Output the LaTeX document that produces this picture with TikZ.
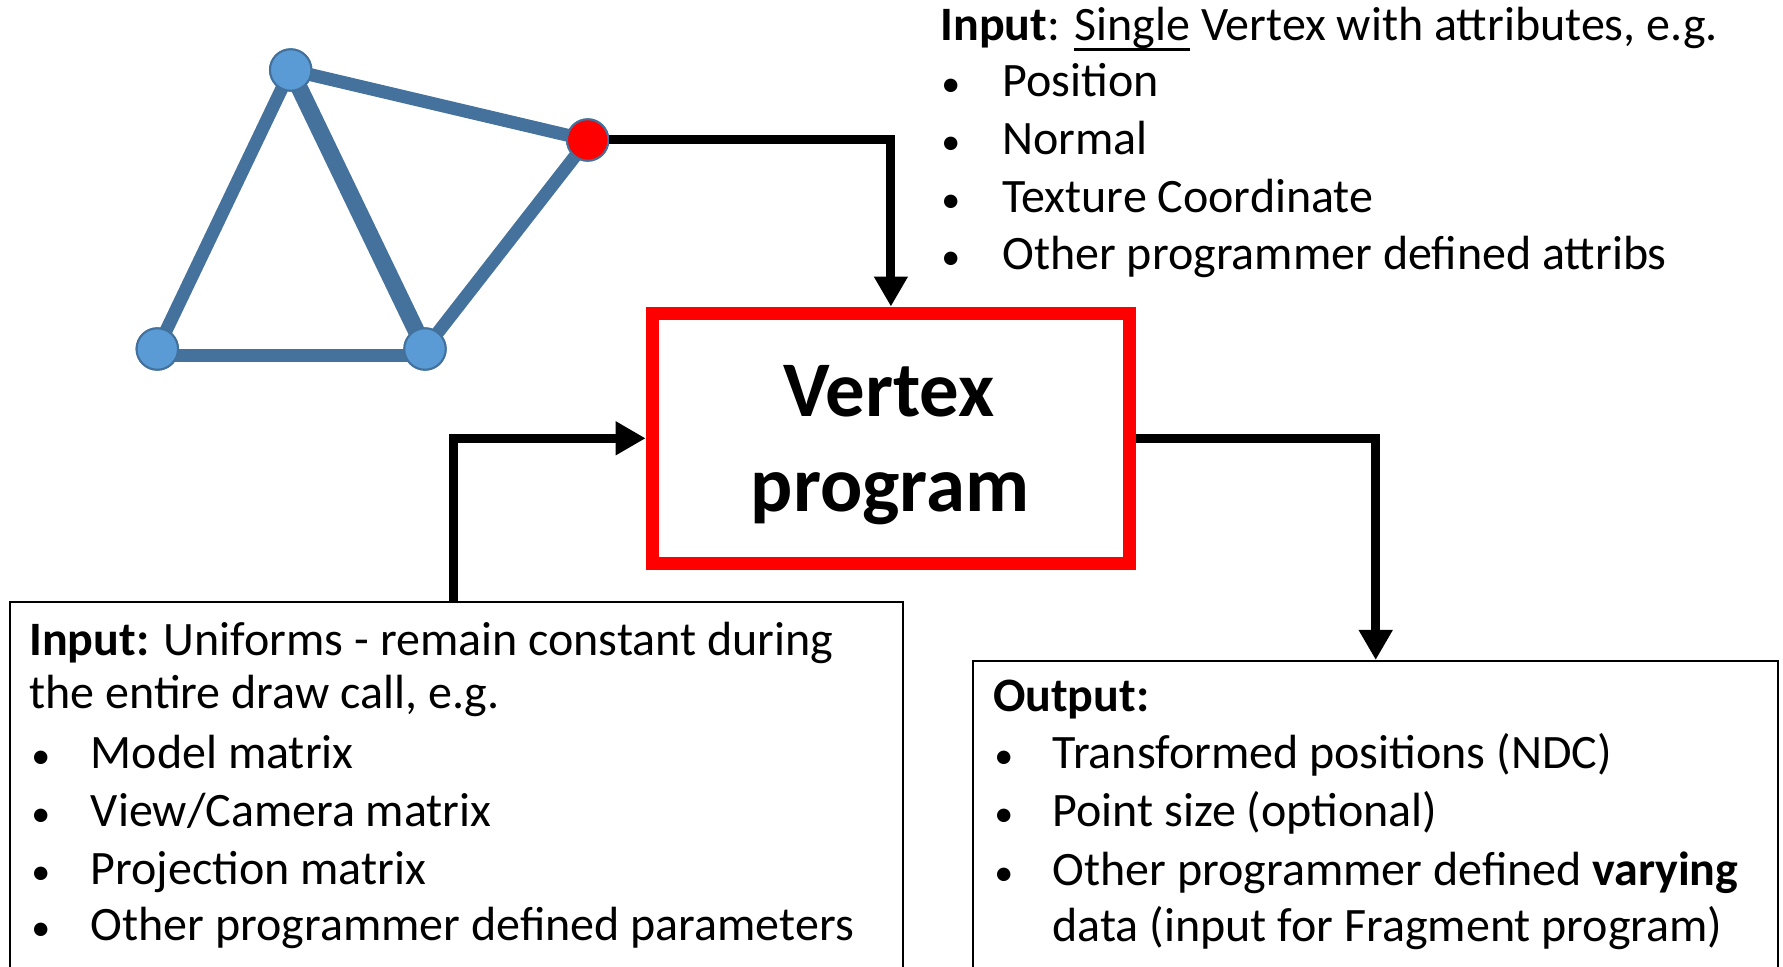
\documentclass[tikz,border=0pt]{standalone}
\usepackage{fontspec}
\setmainfont{Carlito}
\usetikzlibrary{arrows.meta}
\definecolor{meshedge}{HTML}{44729D}
\definecolor{meshfill}{HTML}{5B9BD5}
\definecolor{meshrim}{HTML}{41719C}
% underline with a heavier rule
\newcommand\heavyul[1]{\leavevmode\vtop{\hbox{#1}\kern-0.3pt\hrule height 1.3pt}}
% small list bullet
\newcommand\dotmark{{\fontsize{19}{19}\selectfont\textbullet}}
\begin{document}
\begin{tikzpicture}[x=0.5pt,y=-0.5pt,
  vtx/.style={circle, fill=meshfill, draw=meshrim, line width=1pt, minimum size=20.7pt, inner sep=0pt},
  hotvtx/.style={vtx, fill=red},
  edge/.style={draw=meshedge, line width=6.5pt},
  thickedge/.style={draw=meshedge, line width=8.5pt},
  conn/.style={line width=4.5pt, -{Triangle[length=15pt,width=16pt]}},
  infobox/.style={draw=black, line width=1.2pt, anchor=north west, inner sep=0pt},
  body/.style={font=\fontsize{24}{29}\selectfont, anchor=base west, inner sep=0pt},
  title/.style={font=\fontsize{39.4}{47}\selectfont\bfseries, anchor=base, inner sep=0pt}
]
\useasboundingbox (0,0) rectangle (1783,967);
\clip (0,0) rectangle (1783,967);

% mesh vertices
\node[vtx] (top) at (290.7,70) {};
\node[hotvtx] (red) at (587.7,140) {};
\node[vtx] (bl) at (157.3,349) {};
\node[vtx] (br) at (425,349) {};

% mesh edges, then the vertices again on top of them
\path[edge] (top.center) -- (red.center);
\path[edge] (top.center) -- (bl.center);
\path[thickedge] (top.center) -- (br.center);
\path[edge] (red.center) -- (br.center);
\path[edge] ([yshift=-3.5pt]bl.center) -- ([yshift=-3.5pt]br.center);
\node[vtx] at (top) {};
\node[hotvtx] at (red) {};
\node[vtx] at (bl) {};
\node[vtx] at (br) {};

% the vertex program block
\node[draw=red, line width=6.5pt, minimum width=238.75pt, minimum height=125.25pt, inner sep=0pt] (vp) at (890.9,438.3) {};
\node[title] (vpa) at (889,416.7) {Vertex};
\node[title] (vpb) at (890,511.7) {program};

% uniforms and output boxes
\node[infobox, minimum width=446.5pt, minimum height=194.5pt] (uni) at (9,601) {};
\node[infobox, minimum width=402.5pt, minimum height=165pt] (out) at (972,660) {};

% connectors
\draw[conn] (red.east) -| (vp.north);
\draw[conn] ([xshift=-1.5pt]uni.north) |- (vp.west);
\draw[conn] (vp.east) -| (out.north);

% vertex attributes
\node[body] (a0) at (940,40.5) {\textbf{Input}: \heavyul{Single} Vertex with attributes, e.g.};
\node[body] (a1b) at (941,97) {\dotmark};   \node[body] (a1) at (1002,97) {Position};
\node[body] (a2b) at (941,155) {\dotmark};  \node[body] (a2) at (1002,155) {Normal};
\node[body] (a3b) at (941,213) {\dotmark};  \node[body] (a3) at (1002,213) {Texture Coordinate};
\node[body] (a4b) at (941,270) {\dotmark};  \node[body] (a4) at (1002,270) {Other programmer defined attribs};

% uniforms
\node[body] (u0) at (29,655) {\textbf{Input:} Uniforms - remain constant during};
\node[body] (u1) at (29,708.3) {the entire draw call, e.g.};
\node[body] (u2b) at (31,768.3) {\dotmark};  \node[body] (u2) at (90.4,768.3) {Model matrix};
\node[body] (u3b) at (31,826.7) {\dotmark};  \node[body] (u3) at (90.4,826.7) {View/Camera matrix};
\node[body] (u4b) at (31,884) {\dotmark};    \node[body] (u4) at (90.4,884) {Projection matrix};
\node[body] (u5b) at (31,940) {\dotmark};    \node[body] (u5) at (90.4,940) {Other programmer defined parameters};

% outputs
\node[body] (o0) at (992.7,711.7) {\textbf{Output:}};
\node[body] (o1b) at (994,768.3) {\dotmark};  \node[body] (o1) at (1052.3,768.3) {Transformed positions (NDC)};
\node[body] (o2b) at (994,826.7) {\dotmark};  \node[body] (o2) at (1052.3,826.7) {Point size (optional)};
\node[body] (o3b) at (994,885) {\dotmark};    \node[body] (o3) at (1052.3,885) {Other programmer defined \textbf{varying}};
\node[body] (o4) at (1052.3,941.7) {data (input for Fragment program)};
\end{tikzpicture}
\end{document}
